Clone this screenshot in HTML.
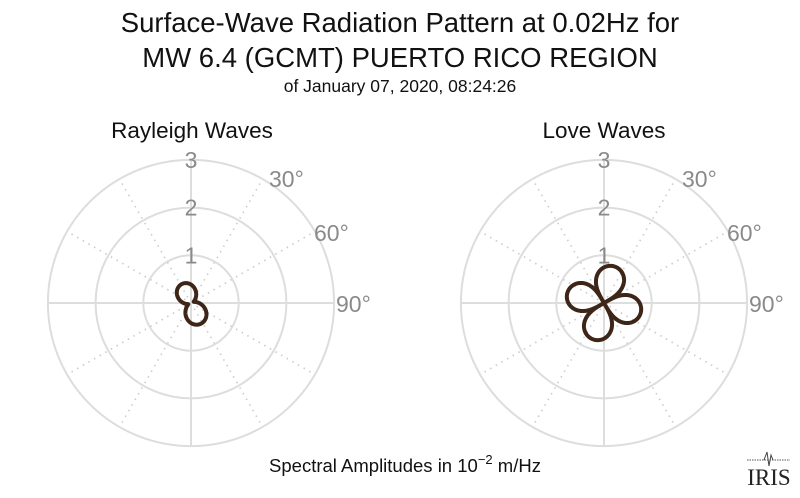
<!DOCTYPE html>
<html><head><meta charset="utf-8"><style>
html,body{margin:0;padding:0;background:#fff;}
body{width:800px;height:493px;overflow:hidden;font-family:"Liberation Sans",sans-serif;}
</style></head><body>
<svg id="s" width="800" height="493" xmlns="http://www.w3.org/2000/svg" font-family="Liberation Sans, sans-serif">
<text x="400" y="32" font-size="27.5" text-anchor="middle" fill="#111">Surface-Wave Radiation Pattern at 0.02Hz for</text>
<text x="400" y="67" font-size="27.5" text-anchor="middle" fill="#111">MW 6.4 (GCMT) PUERTO RICO REGION</text>
<text x="400" y="92" font-size="17.5" text-anchor="middle" fill="#111">of January 07, 2020, 08:24:26</text>
<text x="192" y="138" font-size="22.5" text-anchor="middle" fill="#111">Rayleigh Waves</text>
<text x="604" y="138" font-size="22.5" text-anchor="middle" fill="#111">Love Waves</text>
<text x="405" y="472" font-size="18.5" text-anchor="middle" fill="#111">Spectral Amplitudes in 10<tspan dy="-8" font-size="13">−2</tspan><tspan dy="8"> m/Hz</tspan></text>
<g fill="#333" font-family="Liberation Serif, serif">
<line x1="747" y1="460" x2="790" y2="460" stroke="#555" stroke-width="1" stroke-dasharray="1.5,1"/>
<polyline points="764,460 767,452 769,466 771,455 773,460" fill="none" stroke="#444" stroke-width="1"/>
<text x="769" y="485" font-size="23" text-anchor="middle" fill="#222">IRIS</text>
</g>
<g id="plots"></g>
</svg>
<script>
var g=document.getElementById('plots'),ns='http://www.w3.org/2000/svg';
function el(t,a){var e=document.createElementNS(ns,t);for(var k in a)e.setAttribute(k,a[k]);g.appendChild(e);return e;}
function txt(x,y,s,anchor){var e=el('text',{x:x,y:y,'font-size':23,fill:'#8a8a8a','text-anchor':anchor||'middle'});e.textContent=s;}
var S=47.7;
function axes(cx,cy){
 for(var a=30;a<360;a+=30){ if(a%90==0)continue; var r=a*Math.PI/180;
  el('line',{x1:cx,y1:cy,x2:cx+143*Math.sin(r),y2:cy-143*Math.cos(r),stroke:'#ccc','stroke-width':1.6,'stroke-dasharray':'1.5,5'});}
 el('line',{x1:cx-143,y1:cy,x2:cx+143,y2:cy,stroke:'#ddd','stroke-width':2});
 el('line',{x1:cx,y1:cy-143,x2:cx,y2:cy+143,stroke:'#ddd','stroke-width':2});
 for(var i=1;i<=3;i++)el('circle',{cx:cx,cy:cy,r:S*i,fill:'none',stroke:'#ddd','stroke-width':2});
 txt(cx,cy-S+8,'1');txt(cx,cy-2*S+8,'2');txt(cx,cy-3*S+8,'3');
 txt(cx+78,cy-116,'30°','start');txt(cx+123,cy-62,'60°','start');txt(cx+145,cy+9,'90°','start');
}
function pat(cx,cy,f){var d='';for(var i=0;i<=720;i++){var t=i/2*Math.PI/180,r=f(t);
 d+=(i?'L':'M')+(cx+r*Math.sin(t)).toFixed(2)+','+(cy-r*Math.cos(t)).toFixed(2);}
 el('path',{d:d+'Z',fill:'none',stroke:'#3d2518','stroke-width':4});}
axes(191,303);axes(604,303);
var D=Math.PI/180;
pat(191,303,function(t){var c=Math.cos(t+25*D);return 3+19*Math.pow(Math.abs(c),1.6)*(c<0?1.05:0.95);});
pat(604,303,function(t){var c=Math.abs(Math.cos(2*(t-15*D)));return 38*Math.pow(c,0.45);});
</script>
</body></html>
